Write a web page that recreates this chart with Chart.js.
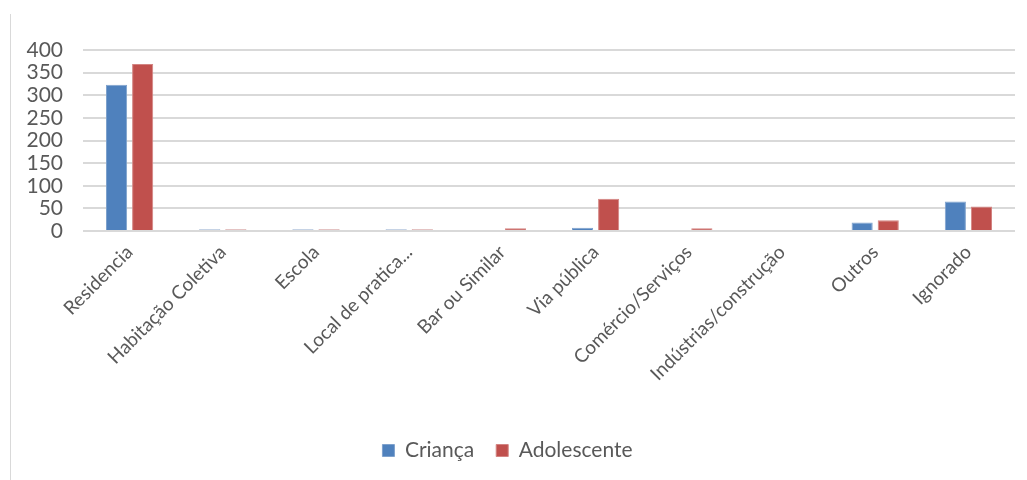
<!DOCTYPE html>
<html>
<head>
<meta charset="utf-8">
<script src="https://cdn.jsdelivr.net/npm/chart.js@4/dist/chart.umd.min.js"></script>
<style>
  html, body { margin: 0; padding: 0; background: #fff; }
  #wrap { position: relative; width: 1027px; height: 480px; }
  #frame { position: absolute; left: 10px; top: 14px; bottom: 0; width: 1px; background: #d9d9d9; }
</style>
</head>
<body>
<div id="wrap">
  <div id="frame"></div>
  <canvas id="chart" width="1027" height="480"></canvas>
</div>
<script>
const categories = ["Residencia", "Habitação Coletiva", "Escola", "Local de pratica...", "Bar ou Similar",
                    "Via pública", "Comércio/Serviços", "Indústrias/construção", "Outros", "Ignorado"];
const crianca = [323, 0, 0, 0, null, 7, null, null, 19, 65];
const adolescente = [369, 0, 0, 0, 6, 71, 6, null, 24, 54];
const yTicks = [0, 50, 100, 150, 200, 250, 300, 350, 400];

const blue = "#4f81bd";
const red = "#c0504d";
const textColor = "#595959";

// zero values still show up as a faint sliver on the baseline
function fill(color, faint) {
  return ctx => (ctx.raw === 0 ? faint : color);
}

new Chart(document.getElementById("chart").getContext("2d"), {
  type: "bar",
  data: {
    labels: categories,
    datasets: [
      {
        label: "Criança",
        data: crianca,
        backgroundColor: fill(blue, "#b4c6dd"),
        borderColor: fill("#7fa2cd", "#b4c6dd"),
        borderWidth: 1,
        minBarLength: 2,
        barPercentage: 0.81,
        categoryPercentage: 0.56
      },
      {
        label: "Adolescente",
        data: adolescente,
        backgroundColor: fill(red, "#dcb0af"),
        borderColor: fill("#d38482", "#dcb0af"),
        borderWidth: 1,
        minBarLength: 2,
        barPercentage: 0.81,
        categoryPercentage: 0.56
      }
    ]
  },
  options: {
    responsive: false,
    animation: false,
    layout: { padding: { top: 50, right: 12, left: 0, bottom: 9 } },
    plugins: {
      tooltip: { enabled: false },
      legend: {
        position: "bottom",
        labels: {
          color: textColor,
          font: { family: "Lato", size: 21 },
          boxWidth: 12,
          boxHeight: 12,
          padding: 22
        }
      }
    },
    scales: {
      x: {
        grid: { display: false },
        border: { display: false },
        ticks: {
          color: textColor,
          font: { family: "Lato", size: 19 },
          maxRotation: 45,
          minRotation: 45,
          autoSkip: false,
          padding: 2
        },
        afterFit: scale => { scale.height = 187; }
      },
      y: {
        min: 0,
        max: 400,
        afterBuildTicks: scale => { scale.ticks = yTicks.map(v => ({ value: v })); },
        grid: { color: "#d9d9d9", lineWidth: 2, drawTicks: false },
        border: { display: false },
        ticks: {
          color: textColor,
          font: { family: "Lato", size: 21 },
          autoSkip: false,
          padding: 20
        },
        afterFit: scale => { scale.width = 83; }
      }
    }
  }
});
</script>
</body>
</html>
